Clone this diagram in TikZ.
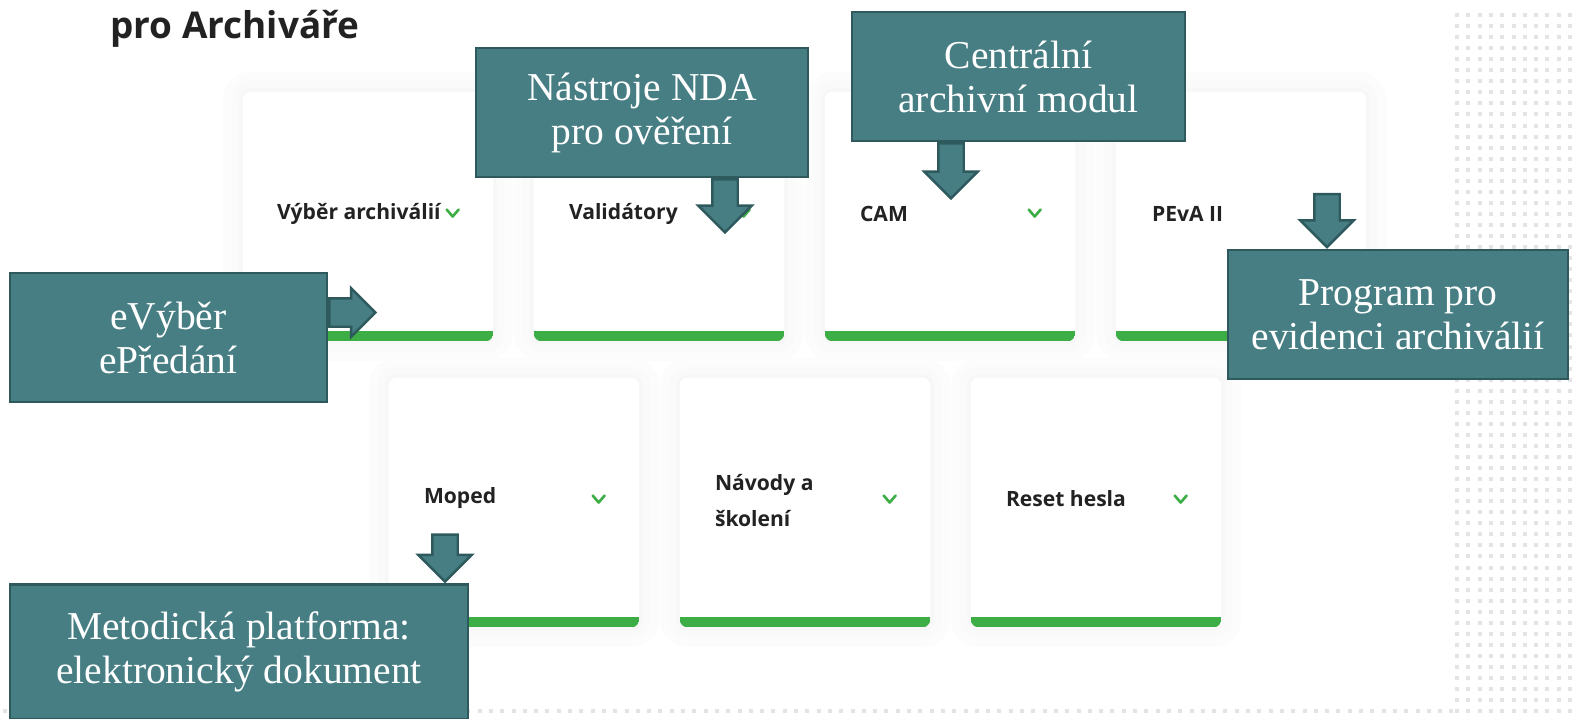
\documentclass[tikz,border=0pt]{standalone}
\usepackage{fontspec}
\setmainfont{Liberation Serif}
\setsansfont{Open Sans}
\usetikzlibrary{shapes.arrows, positioning, calc}
\definecolor{tealbox}{RGB}{70,126,131}
\definecolor{tealedge}{RGB}{46,90,94}
\definecolor{cardgreen}{RGB}{61,174,69}
\definecolor{cardink}{RGB}{34,34,34}
\definecolor{dotgray}{RGB}{228,228,228}
\tikzset{
    card/.style={
        rectangle, rounded corners=0.16cm, fill=white,
        minimum width=5cm, minimum height=4.98cm,
        preaction={draw=black!1, line width=0.8cm},
        preaction={draw=black!2, line width=0.45cm},
        preaction={draw=black!3, line width=0.15cm}
    },
    cardlabel/.style={anchor=west, inner sep=0pt, align=left, text=cardink,
        font=\sffamily\bfseries\fontsize{12}{20.5}\selectfont},
    chevron/.style={draw=cardgreen, line width=1.5pt, line cap=round, line join=round},
    callout/.style={
        rectangle, draw=tealedge, fill=tealbox, line width=1.4pt, text=white,
        align=center, minimum height=2.58cm, font=\fontsize{22.5}{25}\selectfont
    },
    pointer/.style={single arrow, draw=tealedge, fill=tealbox, line width=1.4pt,
        inner xsep=0pt, inner ysep=0.23cm, single arrow head extend=0.28cm,
        single arrow tip angle=90, anchor=tail},
    dot/.style={fill=dotgray},
}

\begin{document}
\begin{tikzpicture}[x=0.02cm, y=-0.02cm]
    \useasboundingbox (0,0) rectangle (1576,718);
    \fill[white] (0,0) rectangle (1576,718);

    % dotted backdrop
    \foreach \i in {0,...,10}
        \foreach \j in {0,...,63}
            \fill[dot] ({1455+11.3*\i},{13+11.05*\j}) rectangle ++(4,4);
    \foreach \i in {0,...,128}
        \fill[dot] ({3+11.3*\i},709) rectangle ++(4,4);

    \node[anchor=base west, inner sep=0pt, text=cardink,
          font=\sffamily\bfseries\fontsize{21}{25}\selectfont] (title) at (110,38) {pro Archiváře};

    % cards
    \node[card] (vyber) at (368,216.5) {};
    \node[card] (valid) at (659,216.5) {};
    \node[card] (cam) at (950,216.5) {};
    \node[card] (peva) at (1241,216.5) {};
    \node[card] (moped) at (514,502.5) {};
    \node[card] (navody) at (805,502.5) {};
    \node[card] (reset) at (1096,502.5) {};

    \foreach \c in {vyber,valid,cam,peva,moped,navody,reset} {
        \fill[white, rounded corners=0.16cm] (\c.south west) rectangle (\c.north east);
    }
    \foreach \c in {vyber,valid,cam,peva,moped,navody,reset} {
        \begin{scope}
            \clip[rounded corners=0.16cm] (\c.south west) rectangle (\c.north east);
            \fill[cardgreen] (\c.south west) rectangle ($(\c.south east)+(0,-10)$);
        \end{scope}
        \draw[chevron] ($(\c.west)+(204,-7)$) -- ++(6,7) -- ++(6,-7);
    }

    \node[cardlabel] (vyber-t) at ($(vyber.west)+(34,-3)$) {Výběr archiválií};
    \node[cardlabel] (valid-t) at ($(valid.west)+(35,-3)$) {Validátory};
    \node[cardlabel] (cam-t) at ($(cam.west)+(35,-3)$) {CAM};
    \node[cardlabel] (peva-t) at ($(peva.west)+(36,-3)$) {PEvA II};
    \node[cardlabel] (moped-t) at ($(moped.west)+(35,-4)$) {Moped};
    \node[cardlabel] (navody-t) at ($(navody.west)+(35,-2)$) {Návody a\\školení};
    \node[cardlabel] (reset-t) at ($(reset.west)+(35,-4)$) {Reset hesla};

    % callouts
    \node[callout, minimum width=6.64cm] (nda) at (642,112.5) {Nástroje NDA\\pro ověření};
    \node[callout, minimum width=6.66cm] (centralni) at (1018.5,76.5) {Centrální\\archivní modul};
    \node[callout, minimum width=6.34cm] (evyber) at (168.5,337.5) {eVýběr\\ePředání};
    \node[callout, minimum width=6.8cm] (program) at (1398,314.5) {Program pro\\evidenci archiválií};
    \node[callout, minimum width=9.16cm, minimum height=2.7cm] (metodika) at (239,652) {Metodická platforma:\\elektronický dokument};

    % pointers
    \node[pointer, rotate=-90, minimum height=1.06cm] (nda-p) at ($(nda.south)+(83,0)$) {};
    \node[pointer, rotate=-90, minimum height=1.1cm] (centralni-p) at ($(centralni.south)+(-67.5,0)$) {};
    \node[pointer, rotate=-90, minimum height=1.06cm, anchor=tip] (program-p) at ($(program.north)+(-71,0)$) {};
    \node[pointer, rotate=-90, minimum height=0.94cm, anchor=tip] (metodika-p) at ($(metodika.north)+(206,0)$) {};
    \node[pointer, minimum height=0.92cm, inner ysep=0.26cm, single arrow head extend=0.2cm] (evyber-p) at ($(evyber.east)+(0,-25)$) {};
\end{tikzpicture}
\end{document}
